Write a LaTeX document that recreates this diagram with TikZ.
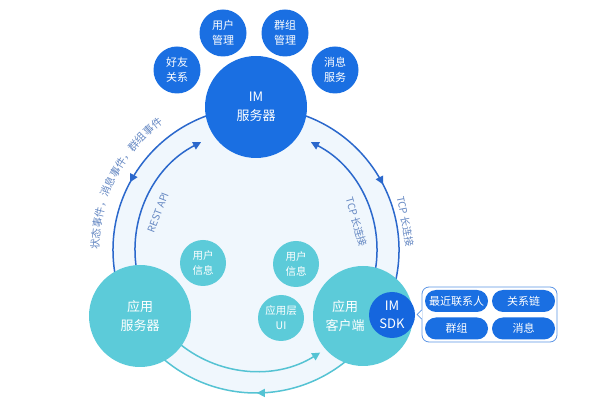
\documentclass[tikz,border=0pt]{standalone}
\usepackage{fontspec}
\setmainfont{Noto Sans CJK SC}
\usetikzlibrary{arrows.meta, calc, positioning, shapes.misc, decorations.markings, decorations.text}
\definecolor{imblue}{HTML}{1A6FE2}
\definecolor{sdkblue}{HTML}{1566DE}
\definecolor{appteal}{HTML}{5CCBD9}
\definecolor{ringfill}{HTML}{F0F7FD}
\definecolor{arcblue}{HTML}{2B68CC}
\definecolor{arcteal}{HTML}{55C3D3}
\definecolor{lblblue}{HTML}{6487C2}
\definecolor{boxline}{HTML}{5C95E5}
\tikzset{
  bub/.style={circle,inner sep=0pt,outer sep=0pt,align=center,text=white,minimum size=#1},
  imc/.style={bub=#1,fill=imblue},
  appc/.style={bub=#1,fill=appteal},
  toe/.style={imc=47pt,font=\fontsize{11}{15}\selectfont},
  bean/.style={appc=46pt,font=\fontsize{10.5}{15}\selectfont},
  bigc/.style={font=\fontsize{13}{18.5}\selectfont},
  ringc/.style={circle,inner sep=0pt,outer sep=0pt,minimum size=#1},
  lk/.style={line width=1.5pt,arcblue},
  tip/.style={-{Triangle[length=8pt,width=8pt]}},
  midarr/.style={postaction={decorate},decoration={markings,
    mark=at position #1 with {\arrow{Triangle[length=8pt,width=8pt]}}}},
  lbl/.style={text=lblblue,inner sep=0pt,font=\fontsize{10}{12}\selectfont},
  pill/.style={rounded rectangle,fill=imblue,text=white,inner sep=0pt,
    minimum width=63pt,minimum height=22pt,font=\fontsize{11}{13}\selectfont},
}
\begin{document}
\begin{tikzpicture}[x=1pt,y=1pt]
\useasboundingbox (0,0) rectangle (599,409);

\node[ringc=286pt,fill=ringfill] (ring) at (256,159) {};
\node[ringc=242pt] (inring) at (256,159) {};

\draw[lk,midarr=0.52] (ring.108) arc[start angle=108,end angle=192,radius=143];
\draw[lk,midarr=0.52] (ring.72) arc[start angle=72,end angle=-14,radius=143];
\draw[lk,tip] (inring.191) arc[start angle=191,end angle=117,radius=121];
\draw[lk,tip] (inring.-10) arc[start angle=-10,end angle=63,radius=121];
\draw[lk,arcteal,tip] (inring.229) arc[start angle=229,end angle=302,radius=121];
\draw[lk,arcteal,midarr=0.49] (ring.311) arc[start angle=311,end angle=228,radius=143];

\path[decorate,decoration={text along path,text align=center,
  text={|\fontsize{10.5}{12}\selectfont\color{lblblue}|状态事件，消息事件，群组事件}}]
  ($(ring.center)+(186:157)$) arc[start angle=186,end angle=120,radius=157];
\node[lbl,rotate=69] (rest) at ($(ring.center)+(159:105)$) {REST API};
\node[lbl,rotate=-74] (tcpin) at ($(ring.center)+(15.6:104)$) {TCP 长连接};
\node[lbl,rotate=-79] (tcpout) at ($(ring.center)+(10.9:152)$) {TCP 长连接};

\node[imc=102pt,bigc] (im) at (256,302) {IM\\服务器};
\node[toe] (usrmgr) at (223,376) {用户\\管理};
\node[toe] (grpmgr) at (285,376) {群组\\管理};
\node[toe] (friend) at (177,339) {好友\\关系};
\node[toe] (msgsvc) at (335,339) {消息\\服务};

\node[appc=102pt,bigc] (appsrv) at (140,93) {应用\\服务器};
\node[bean] (infoa) at (203,146) {用户\\信息};
\node[bean] (infob) at (296,145) {用户\\信息};
\node[bean] (appui) at (281,91) {应用层\\UI};
\node[appc=100pt,bigc] (appcli) at (363,93) {应用\hspace*{36pt}\\客户端\hspace*{36pt}};
\node[bub=46pt,fill=sdkblue,bigc] (sdk) at (392,94) {IM\\SDK};

\node[draw=boxline,line width=0.8pt,fill=white,rounded corners=7pt,
  minimum width=135pt,minimum height=55pt] (sdkbox) at (489.5,94.5) {};
\fill[white] ([xshift=0.8pt,yshift=4.5pt]sdkbox.west) -- ++(-5.3,-4.5) -- ++(5.3,-4.5) -- cycle;
\draw[boxline,line width=0.8pt] ([yshift=4.5pt]sdkbox.west) -- ++(-4.5,-4.5) -- ++(4.5,-4.5);
\node[pill] (recent) at (456.5,108) {最近联系人};
\node[pill] (chain) at (523.5,108) {关系链};
\node[pill] (group) at (456.5,80.5) {群组};
\node[pill] (msg) at (523.5,80.5) {消息};
\end{tikzpicture}
\end{document}
